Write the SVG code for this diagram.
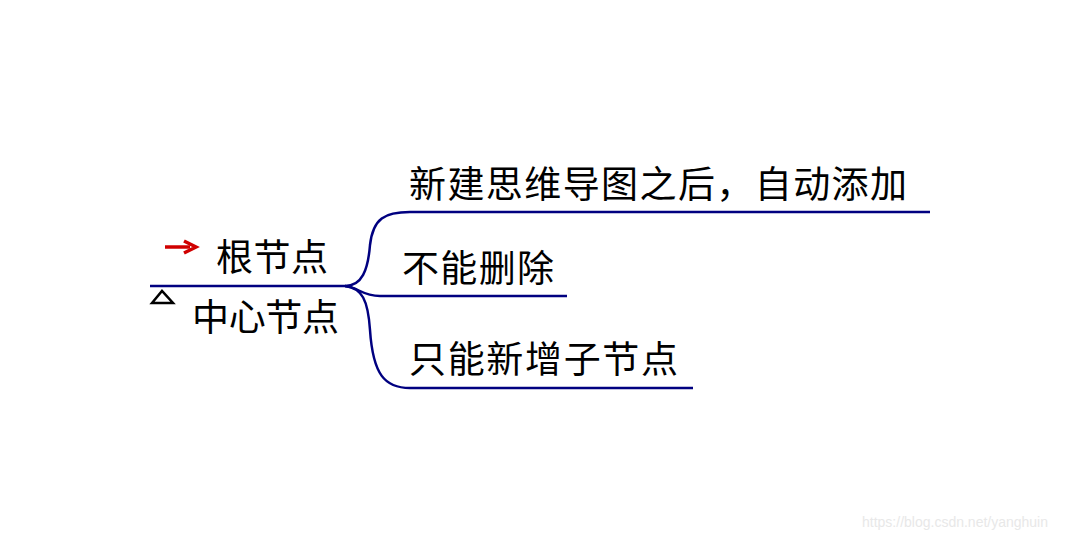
<svg xmlns="http://www.w3.org/2000/svg" width="1080" height="539" viewBox="0 0 1080 539">
<style>
.t{font-family:"Noto Sans CJK SC","Liberation Sans",sans-serif;font-size:37px;fill:#000}
.l{fill:none;stroke:#000080;stroke-width:2.5}
</style>
<rect width="1080" height="539" fill="#fff"/>
<g id="connectors">
<path class="l" d="M150 286 H345 C362 286 368 270 370 245 C373 218 385 212 410 212 H930"/>
<path class="l" d="M345 286 C358 287 362 296 380 296 H567"/>
<path class="l" d="M345 286 C362 288 368 300 370 330 C373 375 385 388 410 388 H693"/>
</g>
<g id="root">
<text class="t" x="216" y="271" textLength="112">根节点</text>
<text class="t" x="192" y="331" textLength="147">中心节点</text>
<path d="M165 247 H190" stroke="#d00000" stroke-width="3.5"/>
<path d="M184 241 L196 247 L184 253" fill="none" stroke="#d00000" stroke-width="3.5"/>
<path d="M152 303 L162 291 L173 303 Z" fill="none" stroke="#000" stroke-width="2.5"/>
</g>
<g id="n1"><text class="t" x="409" y="198" textLength="498">新建思维导图之后，自动添加</text></g>
<g id="n2"><text class="t" x="402" y="282" textLength="152">不能删除</text></g>
<g id="n3"><text class="t" x="409" y="373" textLength="269">只能新增子节点</text></g>
<text x="862" y="527" font-family="Liberation Sans,sans-serif" font-size="14" fill="#e8e8e8">https://blog.csdn.net/yanghuin</text>
</svg>
